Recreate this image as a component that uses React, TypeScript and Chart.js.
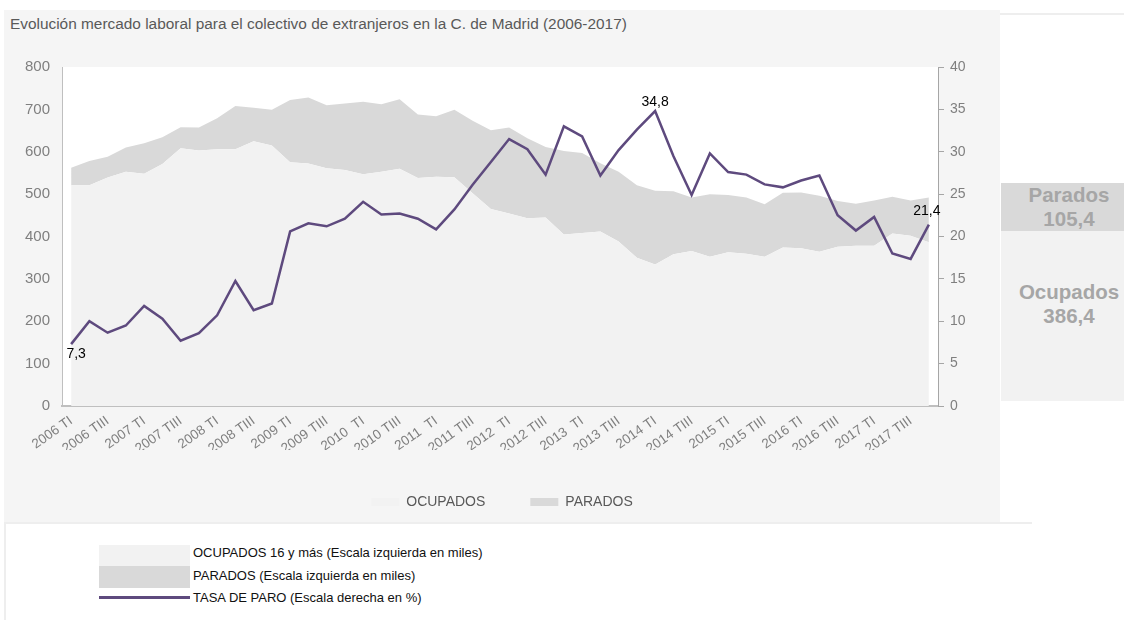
import React, { useEffect, useRef } from 'react';
import { Chart, registerables } from 'chart.js';

Chart.register(...registerables);

const quarterLabels = [
  '2006 TI', '2006 TII', '2006 TIII', '2006 TIV',
  '2007 TI', '2007 TII', '2007 TIII', '2007 TIV',
  '2008 TI', '2008 TII', '2008 TIII', '2008 TIV',
  '2009 TI', '2009 TII', '2009 TIII', '2009 TIV',
  '2010  TI', '2010 TII', '2010 TIII', '2010 TIV',
  '2011  TI', '2011 TII', '2011 TIII', '2011 TIV',
  '2012  TI', '2012 TII', '2012 TIII', '2012 TIV',
  '2013  TI', '2013 TII', '2013 TIII', '2013 TIV',
  '2014 TI', '2014 TII', '2014 TIII', '2014 TIV',
  '2015 TI', '2015 TII', '2015 TIII', '2015 TIV',
  '2016 TI', '2016 TII', '2016 TIII', '2016 TIV',
  '2017 TI', '2017 TII', '2017 TIII', '2017 TIV',
];

// Ocupados 16 y más (miles)
const ocupados = [
  521, 521, 539, 553, 548, 571, 608, 603, 606, 606, 625, 615,
  575, 572, 561, 557, 547, 553, 560, 538, 541, 540, 502, 465,
  454, 443, 445, 405, 408, 412, 388, 350, 334, 358, 366, 352,
  363, 359, 352, 374, 372, 364, 376, 378, 378, 407, 402, 386.4,
];

// Parados (miles)
const parados = [
  41, 57, 49, 57, 72, 63, 50, 54, 73, 102, 79, 84,
  147, 156, 149, 157, 171, 159, 164, 150, 143, 159, 171, 186,
  203, 189, 166, 197, 189, 161, 165, 171, 174, 149, 126, 148,
  135, 133, 124, 129, 132, 132, 108, 99, 107, 87, 83, 105.4,
];

// Tasa de paro (%)
const tasaParo = [
  7.3, 10.0, 8.65, 9.5, 11.8, 10.3, 7.7, 8.6, 10.7, 14.75, 11.3, 12.1,
  20.6, 21.55, 21.2, 22.1, 24.1, 22.6, 22.7, 22.1, 20.85, 23.2, 26.1, 28.8,
  31.5, 30.3, 27.3, 33.0, 31.8, 27.2, 30.2, 32.6, 34.8, 29.5, 24.9, 29.8,
  27.6, 27.3, 26.15, 25.8, 26.6, 27.2, 22.5, 20.7, 22.3, 18.0, 17.35, 21.4,
];

const leftTicks = [0, 100, 200, 300, 400, 500, 600, 700, 800];
const rightTicks = [0, 5, 10, 15, 20, 25, 30, 35, 40];
const labelledIdx = [0, 32, 47];

const FONT = "'Liberation Sans', Arial, sans-serif";
const PURPLE = '#5e4a7e';

const whiteArea = {
  id: 'whiteArea',
  beforeDraw(chart: any) {
    const { ctx, chartArea: a } = chart;
    ctx.save();
    ctx.fillStyle = '#ffffff';
    ctx.fillRect(a.left, a.top, a.right - a.left, a.bottom - a.top);
    ctx.restore();
  },
};

const pointLabels = {
  id: 'pointLabels',
  afterDatasetsDraw(chart: any) {
    const idx = chart.data.datasets.findIndex((d: any) => d.label === 'TASA DE PARO');
    const meta = chart.getDatasetMeta(idx);
    const ctx = chart.ctx;
    const offsets: Record<number, [number, number]> = { 0: [5, 10], 32: [0, -9], 47: [-2, -13] };
    ctx.save();
    ctx.font = `14px ${FONT}`;
    ctx.fillStyle = '#000000';
    ctx.textAlign = 'center';
    ctx.textBaseline = 'middle';
    labelledIdx.forEach((i) => {
      const p = meta.data[i];
      const [dx, dy] = offsets[i] || [0, -10];
      ctx.fillText(tasaParo[i].toFixed(1).replace('.', ','), p.x + dx, p.y + dy);
    });
    ctx.restore();
  },
};

function MarketChart() {
  const ref = useRef<HTMLCanvasElement | null>(null);
  useEffect(() => {
    if (!ref.current) return;
    const chart = new Chart(ref.current, {
      type: 'line',
      data: {
        labels: quarterLabels,
        datasets: [
          {
            label: 'OCUPADOS',
            data: ocupados,
            yAxisID: 'y',
            stack: 'mercado',
            fill: 'origin',
            backgroundColor: '#f2f2f2',
            borderColor: 'rgba(0,0,0,0)',
            borderWidth: 0,
            pointRadius: 0,
            order: 1,
          },
          {
            label: 'PARADOS',
            data: parados,
            yAxisID: 'y',
            stack: 'mercado',
            fill: '-1',
            backgroundColor: '#d9d9d9',
            borderColor: 'rgba(0,0,0,0)',
            borderWidth: 0,
            pointRadius: 0,
            order: 1,
          },
          {
            label: 'TASA DE PARO',
            data: tasaParo,
            yAxisID: 'y2',
            fill: false,
            borderColor: PURPLE,
            backgroundColor: PURPLE,
            borderWidth: 2.5,
            pointRadius: 0,
            tension: 0,
            order: 0,
          },
        ],
      },
      options: {
        animation: false,
        responsive: false,
        maintainAspectRatio: false,
        layout: { padding: { top: 57, left: 0, right: 0, bottom: 0 } },
        plugins: {
          tooltip: { enabled: false },
          legend: {
            position: 'bottom',
            labels: {
              filter: (item: any) => item.text !== 'TASA DE PARO',
              boxWidth: 28,
              boxHeight: 8,
              padding: 45,
              color: '#595959',
              font: { family: FONT, size: 14 },
            },
          },
        },
        scales: {
          x: {
            offset: true,
            grid: { display: false, drawTicks: false },
            border: { display: true, color: '#bfbfbf', width: 2 },
            ticks: {
              autoSkip: false,
              maxRotation: 35,
              minRotation: 35,
              padding: 7,
              color: '#7f7f7f',
              font: { family: FONT, size: 13.5 },
              callback: (_v: any, i: number) => (i % 2 === 0 ? quarterLabels[i] : ''),
            },
            afterFit: (s: any) => { s.height = 44; },
          },
          y: {
            position: 'left',
            stacked: true,
            min: leftTicks[0],
            max: leftTicks[leftTicks.length - 1],
            grid: { display: false, drawTicks: false },
            border: { display: true, color: '#bfbfbf', width: 1 },
            ticks: { stepSize: 100, padding: 12, color: '#7f7f7f', font: { family: FONT, size: 15 } },
            afterFit: (s: any) => { s.width = 58; },
          },
          y2: {
            position: 'right',
            min: rightTicks[0],
            max: rightTicks[rightTicks.length - 1],
            grid: { display: true, drawOnChartArea: false, drawTicks: true, tickLength: 6, color: '#a6a6a6' },
            border: { display: true, color: '#a6a6a6', width: 1 },
            ticks: { stepSize: 5, padding: 6, color: '#7f7f7f', font: { family: FONT, size: 14 } },
            afterFit: (s: any) => { s.width = 62; },
          },
        },
      },
      plugins: [whiteArea, pointLabels],
    } as any);
    return () => chart.destroy();
  }, []);
  return <canvas ref={ref} width={996} height={509} style={{ position: 'absolute', left: 4, top: 10, width: 996, height: 509 }} />;
}

export default function App() {
  const abs = (s: React.CSSProperties): React.CSSProperties => ({ position: 'absolute', ...s });
  const legendText: React.CSSProperties = { font: `13px ${FONT}`, color: '#111', lineHeight: '14px', whiteSpace: 'nowrap' };
  const boxText: React.CSSProperties = { font: `bold 20.5px ${FONT}`, color: '#a6a6a6', lineHeight: '24px', textAlign: 'center' };
  return (
    <div style={{ position: 'absolute', left: 0, top: 0, width: 1124, height: 620, overflow: 'hidden', background: '#ffffff' }}>
      <div style={abs({ left: 4, top: 10, width: 996, height: 512, background: '#f5f5f5' })} />
      <div style={abs({ left: 1000, top: 13, width: 124, height: 2, background: '#eeeeee' })} />
      <div style={abs({ left: 10, top: 15, font: `15.4px ${FONT}`, color: '#595959', lineHeight: '18px', whiteSpace: 'nowrap' })}>
        Evolución mercado laboral para el colectivo de extranjeros en la C. de Madrid (2006-2017)
      </div>
      <MarketChart />
      <div style={abs({ left: 1001, top: 183, width: 136, height: 48, background: '#d9d9d9', ...boxText })}>
        Parados<br />105,4
      </div>
      <div style={abs({ left: 1001, top: 231, width: 136, height: 170, background: '#f2f2f2' })}>
        <div style={abs({ left: 0, top: 49, width: 136, ...boxText })}>Ocupados<br />386,4</div>
      </div>
      <div style={abs({ left: 4, top: 522, width: 1028, height: 98, borderLeft: '2px solid #eeeeee', borderTop: '2px solid #eeeeee', background: '#ffffff', boxSizing: 'border-box' })} />
      <div style={abs({ left: 99, top: 545, width: 91, height: 21, background: '#f2f2f2' })} />
      <div style={abs({ left: 99, top: 566, width: 91, height: 22, background: '#d9d9d9' })} />
      <div style={abs({ left: 99, top: 596, width: 91, height: 3, background: PURPLE })} />
      <div style={abs({ left: 193, top: 546, ...legendText })}>OCUPADOS 16 y más (Escala izquierda en miles)</div>
      <div style={abs({ left: 193, top: 569, ...legendText })}>PARADOS (Escala izquierda en miles)</div>
      <div style={abs({ left: 193, top: 591, ...legendText })}>TASA DE PARO (Escala derecha en %)</div>
    </div>
  );
}
